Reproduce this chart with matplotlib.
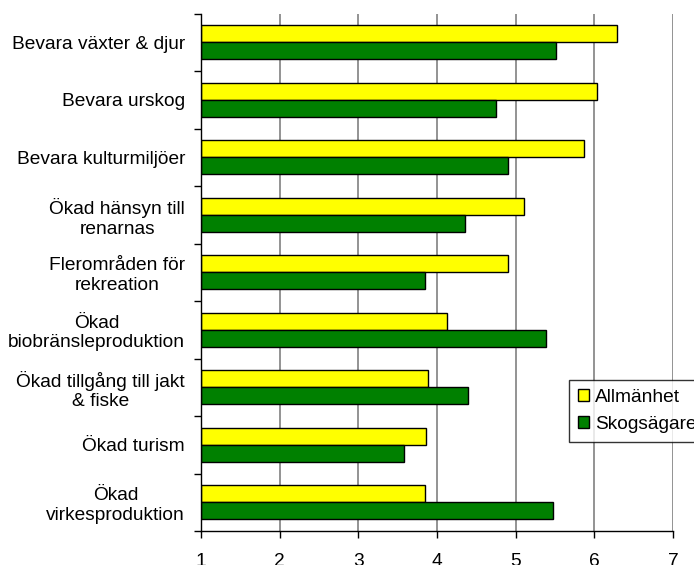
import matplotlib
matplotlib.use("Agg")
import matplotlib.pyplot as plt
import numpy as np

categories = [
    "Bevara växter & djur",
    "Bevara urskog",
    "Bevara kulturmiljöer",
    "Ökad hänsyn till\nrenarnas",
    "Flerområden för\nrekreation",
    "Ökad\nbiobränsleproduktion",
    "Ökad tillgång till jakt\n& fiske",
    "Ökad turism",
    "Ökad\nvirkesproduktion",
]
allmanhet = [6.29, 6.03, 5.87, 5.11, 4.90, 4.13, 3.88, 3.86, 3.85]
skogsagare = [5.51, 4.75, 4.90, 4.36, 3.85, 5.38, 4.39, 3.58, 5.47]
series_names = ["Allmänhet", "Skogsägare"]
xticks = [1, 2, 3, 4, 5, 6, 7]

plt.rcParams['font.family'] = ['Liberation Sans', 'DejaVu Sans']
fs = 13.8

fig = plt.figure(figsize=(6.94, 5.65), dpi=100)
ax = fig.add_axes([201/694, 34/565, 472/694, 517.5/565])

n = len(categories)
y = np.arange(n)
h = 0.295
base = 1
ax.barh(y - h/2, np.array(allmanhet) - base, left=base, height=h,
        color='#FFFF00', edgecolor='black', linewidth=1, label=series_names[0], zorder=3)
ax.barh(y + h/2, np.array(skogsagare) - base, left=base, height=h,
        color='#008000', edgecolor='black', linewidth=1, label=series_names[1], zorder=3)

ax.set_ylim(n - 0.5, -0.5)
ax.set_xlim(1, 7)
ax.set_xticks(xticks)
ax.set_xticklabels([str(t) for t in xticks], fontsize=fs)
ax.set_yticks(y)
ax.set_yticklabels(categories, fontsize=fs, multialignment='center', linespacing=1.2)
ax.set_yticks(np.arange(n + 1) - 0.5, minor=True)
ax.tick_params(axis='y', which='major', length=0, pad=11.5)
ax.tick_params(axis='y', which='minor', length=5, width=1, direction='out')
ax.tick_params(axis='x', which='major', length=5, width=1, direction='out', pad=11)

ax.grid(axis='x', color='#808080', linewidth=1.2, zorder=0)
ax.set_axisbelow(True)
for s in ['top', 'right']:
    ax.spines[s].set_visible(False)
for s in ['left', 'bottom']:
    ax.spines[s].set_color('black')
    ax.spines[s].set_linewidth(1)
    ax.spines[s].set_zorder(4)

leg = fig.legend(loc='upper left', bbox_to_anchor=(569/694, 1 - 380/565),
                 fontsize=fs, frameon=True, fancybox=False, edgecolor='black',
                 handlelength=0.6, handleheight=0.6, handletextpad=0.3,
                 borderpad=0.45, labelspacing=0.55, borderaxespad=0)
leg.get_frame().set_linewidth(1)

fig.savefig("out.png", dpi=100)
